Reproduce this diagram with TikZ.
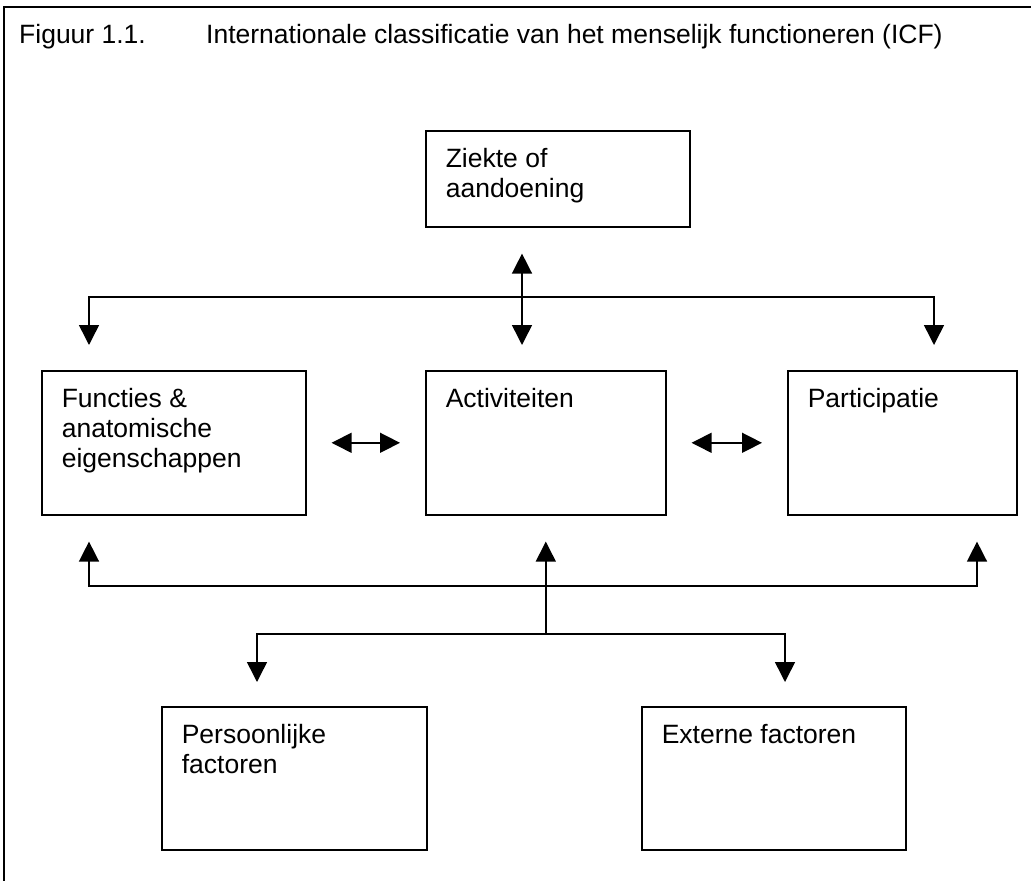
\documentclass[tikz,border=0pt]{standalone}
\usepackage{fontspec}
\setmainfont{Liberation Sans}
\usetikzlibrary{arrows.meta}

\newcommand{\bloktekst}[3]{\parbox[c][#2pt][t]{#1pt}{\leftskip=20pt\rule{0pt}{37pt}#3}}

\begin{document}
\begin{tikzpicture}[x=1pt,y=-1pt,
    blok/.style={draw,line width=1.6pt,inner sep=0pt,anchor=north west,font=\fontsize{26.5}{30}\selectfont},
    kop/.style={anchor=base west,inner sep=0pt,font=\fontsize{26.5}{30}\selectfont},
    pijl/.style={line width=1.5pt},
    >={Triangle[length=20pt,width=20pt]}]
    \useasboundingbox (0,0) rectangle (1031,881);
    % kader en titel
    \draw[line width=2pt] (4,881) -- (4,7) -- (1031,7);
    \node[kop] (fignr) at (19,43) {Figuur 1.1.};
    \node[kop] (titel) at (206,43) {Internationale classificatie van het menselijk functioneren (ICF)};
    % blokken
    \node[blok] (ziekte) at (425,130) {\bloktekst{264}{96}{Ziekte of\\aandoening}};
    \node[blok] (functies) at (41,370) {\bloktekst{264}{144}{Functies \&\\anatomische\\eigenschappen}};
    \node[blok] (activ) at (425,370) {\bloktekst{240}{144}{Activiteiten}};
    \node[blok] (partic) at (787,370) {\bloktekst{229}{144}{Participatie}};
    \node[blok] (pers) at (161,706) {\bloktekst{265}{143}{Persoonlijke\\factoren}};
    \node[blok] (extern) at (641,706) {\bloktekst{264}{143}{Externe factoren}};
    % knikpunten
    \coordinate (bovenmidden) at (522,297);
    \coordinate (bovenlinks) at (89,297);
    \coordinate (bovenrechts) at (934,297);
    \coordinate (onderlinks) at (89,586);
    \coordinate (onderrechts) at (977,586);
    \coordinate (factlinks) at (257,634);
    \coordinate (factrechts) at (785,634);
    % pijlen
    \draw[pijl,<->,shorten <=26pt,shorten >=25pt] (ziekte.south -| bovenmidden) -- (activ.north -| bovenmidden);
    \draw[pijl,<->,shorten <=25pt,shorten >=25pt] (functies.north -| bovenlinks) -- (bovenlinks) -- (bovenrechts) -- (partic.north -| bovenrechts);
    \draw[pijl,<->,shorten <=25pt,shorten >=25pt] (functies) -- (activ);
    \draw[pijl,<->,shorten <=25pt,shorten >=25pt] (activ) -- (partic);
    \draw[pijl,<->,shorten <=26pt,shorten >=26pt] (functies.south -| onderlinks) -- (onderlinks) -- (onderrechts) -- (partic.south -| onderrechts);
    \draw[pijl,->,shorten >=26pt] (activ.south |- factlinks) -- (activ.south);
    \draw[pijl,<->,shorten <=24pt,shorten >=24pt] (pers.north -| factlinks) -- (factlinks) -- (factrechts) -- (extern.north -| factrechts);
\end{tikzpicture}
\end{document}
